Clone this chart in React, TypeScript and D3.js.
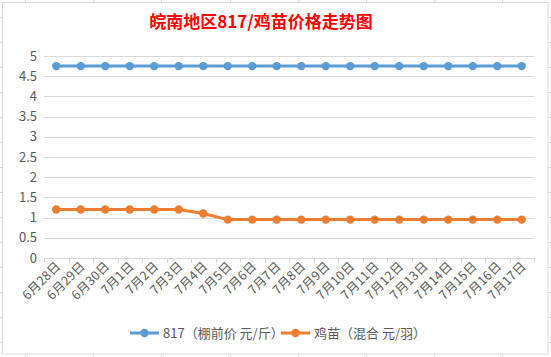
import React from "react";
import * as d3 from "d3";

const categories = ["6月28日","6月29日","6月30日","7月1日","7月2日","7月3日","7月4日","7月5日","7月6日","7月7日","7月8日","7月9日","7月10日","7月11日","7月12日","7月13日","7月14日","7月15日","7月16日","7月17日"];
const series817 = [4.75,4.75,4.75,4.75,4.75,4.75,4.75,4.75,4.75,4.75,4.75,4.75,4.75,4.75,4.75,4.75,4.75,4.75,4.75,4.75];
const seriesChick = [1.2,1.2,1.2,1.2,1.2,1.2,1.1,0.95,0.95,0.95,0.95,0.95,0.95,0.95,0.95,0.95,0.95,0.95,0.95,0.95];
const yTicks = [0,0.5,1,1.5,2,2.5,3,3.5,4,4.5,5];
const seriesNames = ["817（棚前价 元/斤）", "鸡苗（混合 元/羽）"];
const title = "皖南地区817/鸡苗价格走势图";

const W = 551, H = 357;
const FONT = "'Microsoft YaHei', 'Noto Sans CJK SC', sans-serif";
const colors = ["#5B9BD5", "#ED7D31"];

export default function App() {
  const x = d3.scaleBand<string>().domain(categories).range([44, 534]);
  const y = d3.scaleLinear().domain([0, 5]).range([258, 56]);
  const cx = (c: string) => (x(c) as number) + x.bandwidth() / 2;
  const line = d3.line<number>().x((_, i) => cx(categories[i])).y(d => y(d));
  const data = [series817, seriesChick];
  const boundaries = categories.map(c => x(c) as number).concat([534]);
  const labelColor = "#595959";
  const sheetCols = d3.range(8).map(k => 25 + k * 68.2);
  const sheetRows = d3.range(14).map(k => 17 + k * 25);
  return (
    <svg width={W} height={H} style={{ position: "absolute", left: 0, top: 0, background: "#fff" }} fontFamily={FONT}>
      {sheetCols.map((c, i) => (
        <g key={"c" + i}>
          <line x1={Math.round(c) + 0.5} x2={Math.round(c) + 0.5} y1={0} y2={2} stroke="#D4D4D4" />
          <line x1={Math.round(c) + 0.5} x2={Math.round(c) + 0.5} y1={355} y2={357} stroke="#D4D4D4" />
        </g>
      ))}
      {sheetRows.map((r, i) => (
        <g key={"r" + i}>
          <line x1={0} x2={2} y1={Math.round(r) + 0.5} y2={Math.round(r) + 0.5} stroke="#D4D4D4" />
          <line x1={549} x2={551} y1={Math.round(r) + 0.5} y2={Math.round(r) + 0.5} stroke="#D4D4D4" />
        </g>
      ))}
      <rect x={2.5} y={2.5} width={545.5} height={351.5} fill="#fff" stroke="#D9D9D9" />
      <text x={261} y={28} textAnchor="middle" fill="#FF0000" fontSize={17} fontWeight="bold">{title}</text>
      {yTicks.map(t => (
        <g key={t}>
          <line x1={44} x2={534} y1={Math.round(y(t)) + 0.5} y2={Math.round(y(t)) + 0.5} stroke="#D9D9D9" />
          <text x={37} y={y(t) + 4.5} textAnchor="end" fontSize={13} fill={labelColor}>{t}</text>
        </g>
      ))}
      {boundaries.map((b, i) => (
        <line key={i} x1={Math.round(b) + 0.5} x2={Math.round(b) + 0.5} y1={258} y2={263} stroke="#D9D9D9" />
      ))}
      {categories.map(c => (
        <text key={c} transform={`translate(${cx(c) + 5},${267}) rotate(-45)`} textAnchor="end" fontSize={12.5} letterSpacing={0.3} fill={labelColor}>{c}</text>
      ))}
      {data.map((s, k) => (
        <g key={k}>
          <path d={line(s) || ""} fill="none" stroke={colors[k]} strokeWidth={3} strokeLinejoin="round" />
          {s.map((v, i) => (
            <circle key={i} cx={cx(categories[i])} cy={y(v)} r={4.2} fill={colors[k]} />
          ))}
        </g>
      ))}
      {seriesNames.map((n, k) => {
        const lx = k === 0 ? 130 : 281;
        return (
          <g key={n}>
            <line x1={lx} x2={lx + 29} y1={333} y2={333} stroke={colors[k]} strokeWidth={3} />
            <circle cx={lx + 14.5} cy={333} r={4.2} fill={colors[k]} />
            <text x={lx + 33} y={338} fontSize={13} fill={labelColor}>{n}</text>
          </g>
        );
      })}
    </svg>
  );
}
